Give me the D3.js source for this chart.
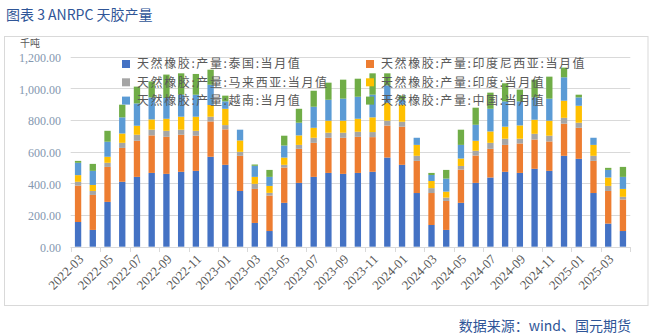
<!DOCTYPE html>
<html><head><meta charset="utf-8">
<script src="https://cdn.jsdelivr.net/npm/d3@7"></script>
<style>
body{margin:0;background:#fff;}
svg{display:block;}
</style></head>
<body>
<svg id="c" width="656" height="335"></svg>
<script>
const months = ["2022-03","2022-04","2022-05","2022-06","2022-07","2022-08","2022-09","2022-10","2022-11","2022-12",
"2023-01","2023-02","2023-03","2023-04","2023-05","2023-06","2023-07","2023-08","2023-09","2023-10","2023-11","2023-12",
"2024-01","2024-02","2024-03","2024-04","2024-05","2024-06","2024-07","2024-08","2024-09","2024-10","2024-11","2024-12",
"2025-01","2025-02","2025-03","2025-04"];
const seriesNames = ["天然橡胶:产量:泰国:当月值","天然橡胶:产量:印度尼西亚:当月值","天然橡胶:产量:马来西亚:当月值",
"天然橡胶:产量:印度:当月值","天然橡胶:产量:越南:当月值","天然橡胶:产量:中国:当月值"];
const thailand  = [156,106,283,410,441,466,460,473,479,568,517,352,150,99,277,403,441,466,460,466,473,563,517,339,137,106,277,403,437,473,466,492,479,574,555,339,146,99];
const indonesia = [230,221,221,214,228,237,234,234,222,223,224,222,215,224,223,215,215,222,228,228,219,202,241,203,202,183,210,173,181,170,186,185,186,203,196,203,206,199];
const malaysia  = [24,25,26,32,38,36,38,32,31,30,27,25,32,17,17,25,32,32,32,32,32,31,31,32,31,21,23,30,38,39,30,36,36,37,32,32,32,17];
const india     = [42,38,38,59,57,65,76,82,89,74,103,72,44,44,46,60,63,76,76,82,93,113,108,69,45,38,47,63,72,76,84,89,95,108,107,69,53,50];
const vietnam   = [78,89,95,102,141,139,131,139,139,128,47,68,70,57,76,80,133,132,139,139,143,110,31,45,38,82,86,101,143,160,152,141,139,148,53,45,48,76];
const china     = [12,44,69,80,106,101,148,135,131,95,36,0,8,44,62,88,101,108,120,114,135,76,26,0,13,55,96,108,102,114,74,112,139,61,17,0,13,63];
const yTicks = [0,200,400,600,800,1000,1200];
const tickLabels = months.filter((m,i)=>i%2===0);
const colors = ["#4472C4","#ED7D31","#A5A5A5","#FFC000","#5B9BD5","#70AD47"];
const seriesValues = [thailand,indonesia,malaysia,india,vietnam,china];

const svg = d3.select("#c");
const cjk = "'Noto Sans CJK SC','Noto Sans',sans-serif";
const serif = "'Liberation Serif','DejaVu Serif',serif";

// frame
svg.append("rect").attr("x",4.5).attr("y",36.5).attr("width",643.5).attr("height",269).attr("fill","none").attr("stroke","#d9d9d9");

// title
svg.append("text").attr("x",6).attr("y",20).attr("font-family",cjk).attr("font-size",14)
  .attr("fill","#2F5597").text("图表 3 ANRPC 天胶产量");
// source
svg.append("text").attr("x",631).attr("y",331).attr("text-anchor","end").attr("font-family",cjk).attr("font-size",14)
  .attr("fill","#2F5597").text("数据来源：wind、国元期货");

const x = d3.scaleBand().domain(months).range([70.7,630.3]).paddingInner(0.57).paddingOuter(0.285);
const y = d3.scaleLinear().domain([0,1200]).range([246.7,56.7]);

// gridlines
svg.append("g").selectAll("line").data(yTicks).join("line")
  .attr("x1",70.7).attr("x2",630.3).attr("y1",d=>Math.round(y(d))+0.5).attr("y2",d=>Math.round(y(d))+0.5)
  .attr("stroke","#d9d9d9");
// y labels
svg.append("g").selectAll("text").data(yTicks).join("text")
  .attr("x",61).attr("y",d=>y(d)+1).attr("dy","0.35em").attr("text-anchor","end")
  .attr("font-family",serif).attr("font-size",12).attr("fill","#8497B0")
  .text(d=>d3.format(",.2f")(d));
svg.append("text").attr("x",30).attr("y",47).attr("text-anchor","middle").attr("font-family",cjk)
  .attr("font-size",10).attr("fill","#595959").text("千吨");

// stacked bars
const table = months.map((m,i)=>{const o={month:m}; seriesNames.forEach((s,j)=>o[s]=seriesValues[j][i]); return o;});
const stack = d3.stack().keys(seriesNames)(table);
svg.append("g").selectAll("g").data(stack).join("g").attr("fill",(d,i)=>colors[i])
  .selectAll("rect").data(d=>d).join("rect")
  .attr("x",d=>x(d.data.month)).attr("width",x.bandwidth())
  .attr("y",d=>y(d[1])).attr("height",d=>y(d[0])-y(d[1]));

// x axis
const step = x.step();
const r0 = x.range()[0];
svg.append("line").attr("x1",r0).attr("x2",x.range()[1]).attr("y1",Math.round(y(0))+0.5).attr("y2",Math.round(y(0))+0.5).attr("stroke","#d9d9d9");
const tickIdx = d3.range(0, months.length+1, 2);
svg.append("g").selectAll("line").data(tickIdx).join("line")
  .attr("x1",i=>Math.round(r0+i*step)+0.5).attr("x2",i=>Math.round(r0+i*step)+0.5)
  .attr("y1",Math.round(y(0))).attr("y2",Math.round(y(0))+5).attr("stroke","#d9d9d9");
svg.append("g").selectAll("text").data(tickLabels).join("text")
  .attr("transform",d=>`translate(${x(d)+x.bandwidth()/2+3},${y(0)+10}) rotate(-45)`)
  .attr("text-anchor","end").attr("dy","0.35em")
  .attr("font-family",serif).attr("font-size",13).attr("fill","#595959").text(d=>d);

// legend
const legX = [122, 366], legY = [64, 82.3, 100.6];
const leg = svg.append("g").selectAll("g").data(seriesNames).join("g")
  .attr("transform",(d,i)=>`translate(${legX[i%2]},${legY[Math.floor(i/2)]})`);
leg.append("rect").attr("x",0).attr("y",-4).attr("width",8).attr("height",8).attr("fill",(d,i)=>colors[i]);
leg.append("text").attr("x",15).attr("y",0).attr("dy","0.35em").attr("font-family",cjk).attr("font-size",12)
  .attr("letter-spacing","1.6px").attr("fill","#595959").text(d=>d);
</script>
</body></html>
